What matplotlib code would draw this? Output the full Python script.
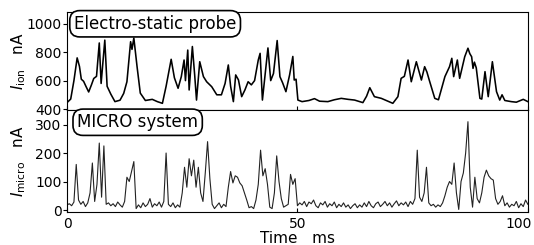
import matplotlib.pyplot as plt
import numpy as np

# ion current from the electro-static probe (time ms, current nA)
ion_t = [0, 0.8, 1.5, 2.2, 2.7, 3.1, 3.6, 4.1, 4.7, 5.3, 5.8, 6.4, 7.0, 7.4, 8.2, 8.7,
         9.5, 10.4, 11.5, 12.3, 13.0, 13.8, 14.1, 14.5, 15.2, 15.9, 17.0, 18.5, 19.6,
         20.7, 21.5, 22.6, 23.3, 24.1, 24.8, 25.4, 25.7, 26.2, 26.5, 27.2, 27.7, 28.1,
         28.8, 29.6, 30.3, 31.4, 32.5, 33.5, 34.3, 35.0, 35.5, 36.1, 36.6, 37.2, 37.9,
         38.6, 39.3, 40.0, 40.7, 41.5, 41.9, 42.4, 43.0, 43.6, 44.2, 44.8, 45.6, 46.2,
         46.8, 47.5, 48.3, 49.0, 49.3, 49.7, 50.1, 51.0, 52.5, 53.7, 54.8, 56.6, 58.0,
         59.5, 61.0, 62.4, 64.2, 65.0, 65.7, 66.7, 68.2, 69.6, 70.7, 71.8, 72.5, 73.2,
         74.0, 74.7, 75.8, 76.9, 77.6, 78.1, 78.6, 79.8, 80.6, 82.0, 83.0, 83.5, 83.9,
         84.7, 85.2, 85.8, 86.3, 87.0, 87.4, 87.8, 88.1, 88.4, 88.8, 89.6, 90.0, 90.7,
         91.4, 92.3, 93.2, 93.9, 94.4, 95.0, 96.4, 97.5, 99.0, 100]
ion_v = [445, 470, 600, 760, 700, 610, 595, 560, 520, 570, 615, 630, 865, 580, 885, 560,
         505, 452, 462, 510, 592, 874, 820, 900, 698, 512, 460, 468, 452,
         440, 560, 750, 620, 546, 628, 745, 600, 815, 534, 840, 640, 463,
         733, 628, 592, 557, 500, 500, 580, 710, 560, 452, 640, 605, 487,
         534, 592, 570, 600, 745, 792, 463, 650, 830, 600, 650, 882, 628,
         583, 522, 640, 770, 604, 610, 463, 452, 460, 473, 455, 452, 465,
         475, 468, 463, 445, 490, 550, 487, 475, 455, 440, 487, 616, 630,
         745, 592, 733, 604, 698, 660, 604, 475, 465, 628, 698, 757, 628,
         745, 616, 700, 768, 828, 790, 768, 686, 730, 690, 475, 470, 663,
         487, 733, 522, 463, 500, 460, 452, 448, 468, 452]

# MICRO system current, every 0.5 ms from 0 to 100 ms
micro_v = [18, 22, 15, 28, 160, 35, 20, 30, 12, 25,          # 0 - 4.5
           60, 165, 30, 90, 235, 45, 225, 20, 25, 15,        # 5 - 9.5
           22, 12, 28, 18, 10, 30, 115, 100, 135, 170,       # 10 - 14.5
           5, 18, 8, 25, 12, 20, 40, 10, 22, 15,             # 15 - 19.5
           28, 10, 30, 200, 20, 12, 25, 8, 18, 10,           # 20 - 24.5
           60, 150, 80, 180, 120, 175, 80, 150, 60, 30,      # 25 - 29.5
           130, 240, 110, 20, 5, 15, 25, 8, 20, 12,          # 30 - 34.5
           80, 135, 95, 120, 115, 95, 85, 60, 35, 8,         # 35 - 39.5
           12, 5, 35, 90, 210, 120, 145, 90, 10, 5,          # 40 - 44.5
           60, 190, 100, 40, 10, 15, 20, 125, 90, 110,       # 45 - 49.5
           15, 25, 18, 30, 12, 28, 22, 35, 15, 8,            # 50 - 54.5
           25, 18, 30, 10, 22, 15, 28, 8, 20, 12,            # 55 - 59.5
           25, 10, 18, 5, 15, 22, 8, 18, 10, 25,             # 60 - 64.5
           12, 30, 15, 8, 22, 28, 12, 20, 30, 15,            # 65 - 69.5
           25, 10, 22, 32, 15, 25, 18, 28, 12, 30,           # 70 - 74.5
           20, 40, 210, 45, 30, 60, 150, 25, 15, 20,         # 75 - 79.5
           10, 18, 12, 25, 50, 80, 100, 90, 165, 60,         # 80 - 84.5
           2, 100, 130, 200, 310, 80, 10, 115, 40, 25,       # 85 - 89.5
           60, 115, 140, 120, 110, 105, 40, 20, 30, 50,      # 90 - 94.5
           15, 25, 10, 20, 15, 30, 8, 22, 12, 35,            # 95 - 99.5
           20]                                               # 100
micro_t = np.linspace(0, 100, len(micro_v))

x_ticks = [0, 50, 100]

plt.rcParams['font.family'] = ['DejaVu Sans']

fig = plt.figure(figsize=(5.34, 2.45), dpi=100)
ax1 = fig.add_axes([0.1255, 0.551, 0.863, 0.4])
ax2 = fig.add_axes([0.1255, 0.1347, 0.863, 0.4163])

ax1.plot(ion_t, ion_v, color='black', lw=1.15)
ax1.set_xlim(0, 100)
ax1.set_ylim(393, 1083)
ax1.set_yticks([400, 600, 800, 1000])
ax1.set_xticks(x_ticks)
ax1.tick_params(axis='x', direction='in', labelbottom=False, length=3)
ax1.set_ylabel(r'$I_{\rm ion}$   nA', fontsize=11)

ax2.plot(micro_t, micro_v, color='#222222', lw=0.8)
ax2.set_xlim(0, 100)
ax2.set_ylim(-7, 351)
ax2.set_yticks([0, 100, 200, 300])
ax2.set_xticks(x_ticks)
# last label is drawn by hand so it stays inside the picture
ax2.set_xticklabels([str(x) for x in x_ticks[:-1]] + [''])
ax2.annotate(str(x_ticks[-1]), xy=(x_ticks[-1], 0), xycoords=('data', 'axes fraction'),
             xytext=(3, -3.5), textcoords='offset points', ha='right', va='top', fontsize=10)
ax2.tick_params(axis='x', direction='in', length=3)
ax2.set_xlabel('Time   ms', fontsize=11, labelpad=0)
ax2.set_ylabel(r'$I_{\rm micro}$   nA', fontsize=11)

for ax in (ax1, ax2):
    ax.tick_params(axis='y', direction='out', length=3, labelsize=10, pad=1)
    ax.tick_params(axis='x', labelsize=10)
    ax.yaxis.set_label_coords(-0.085, 0.5)

box = dict(boxstyle='round,pad=0.25,rounding_size=0.6', fc='white', ec='black', lw=1.2)
ax1.text(0.015, 0.88, 'Electro-static probe', transform=ax1.transAxes, fontsize=12,
         va='center', ha='left', bbox=box)
ax2.text(0.022, 0.88, 'MICRO system', transform=ax2.transAxes, fontsize=12,
         va='center', ha='left', bbox=box)

fig.savefig('out.png', dpi=100)
